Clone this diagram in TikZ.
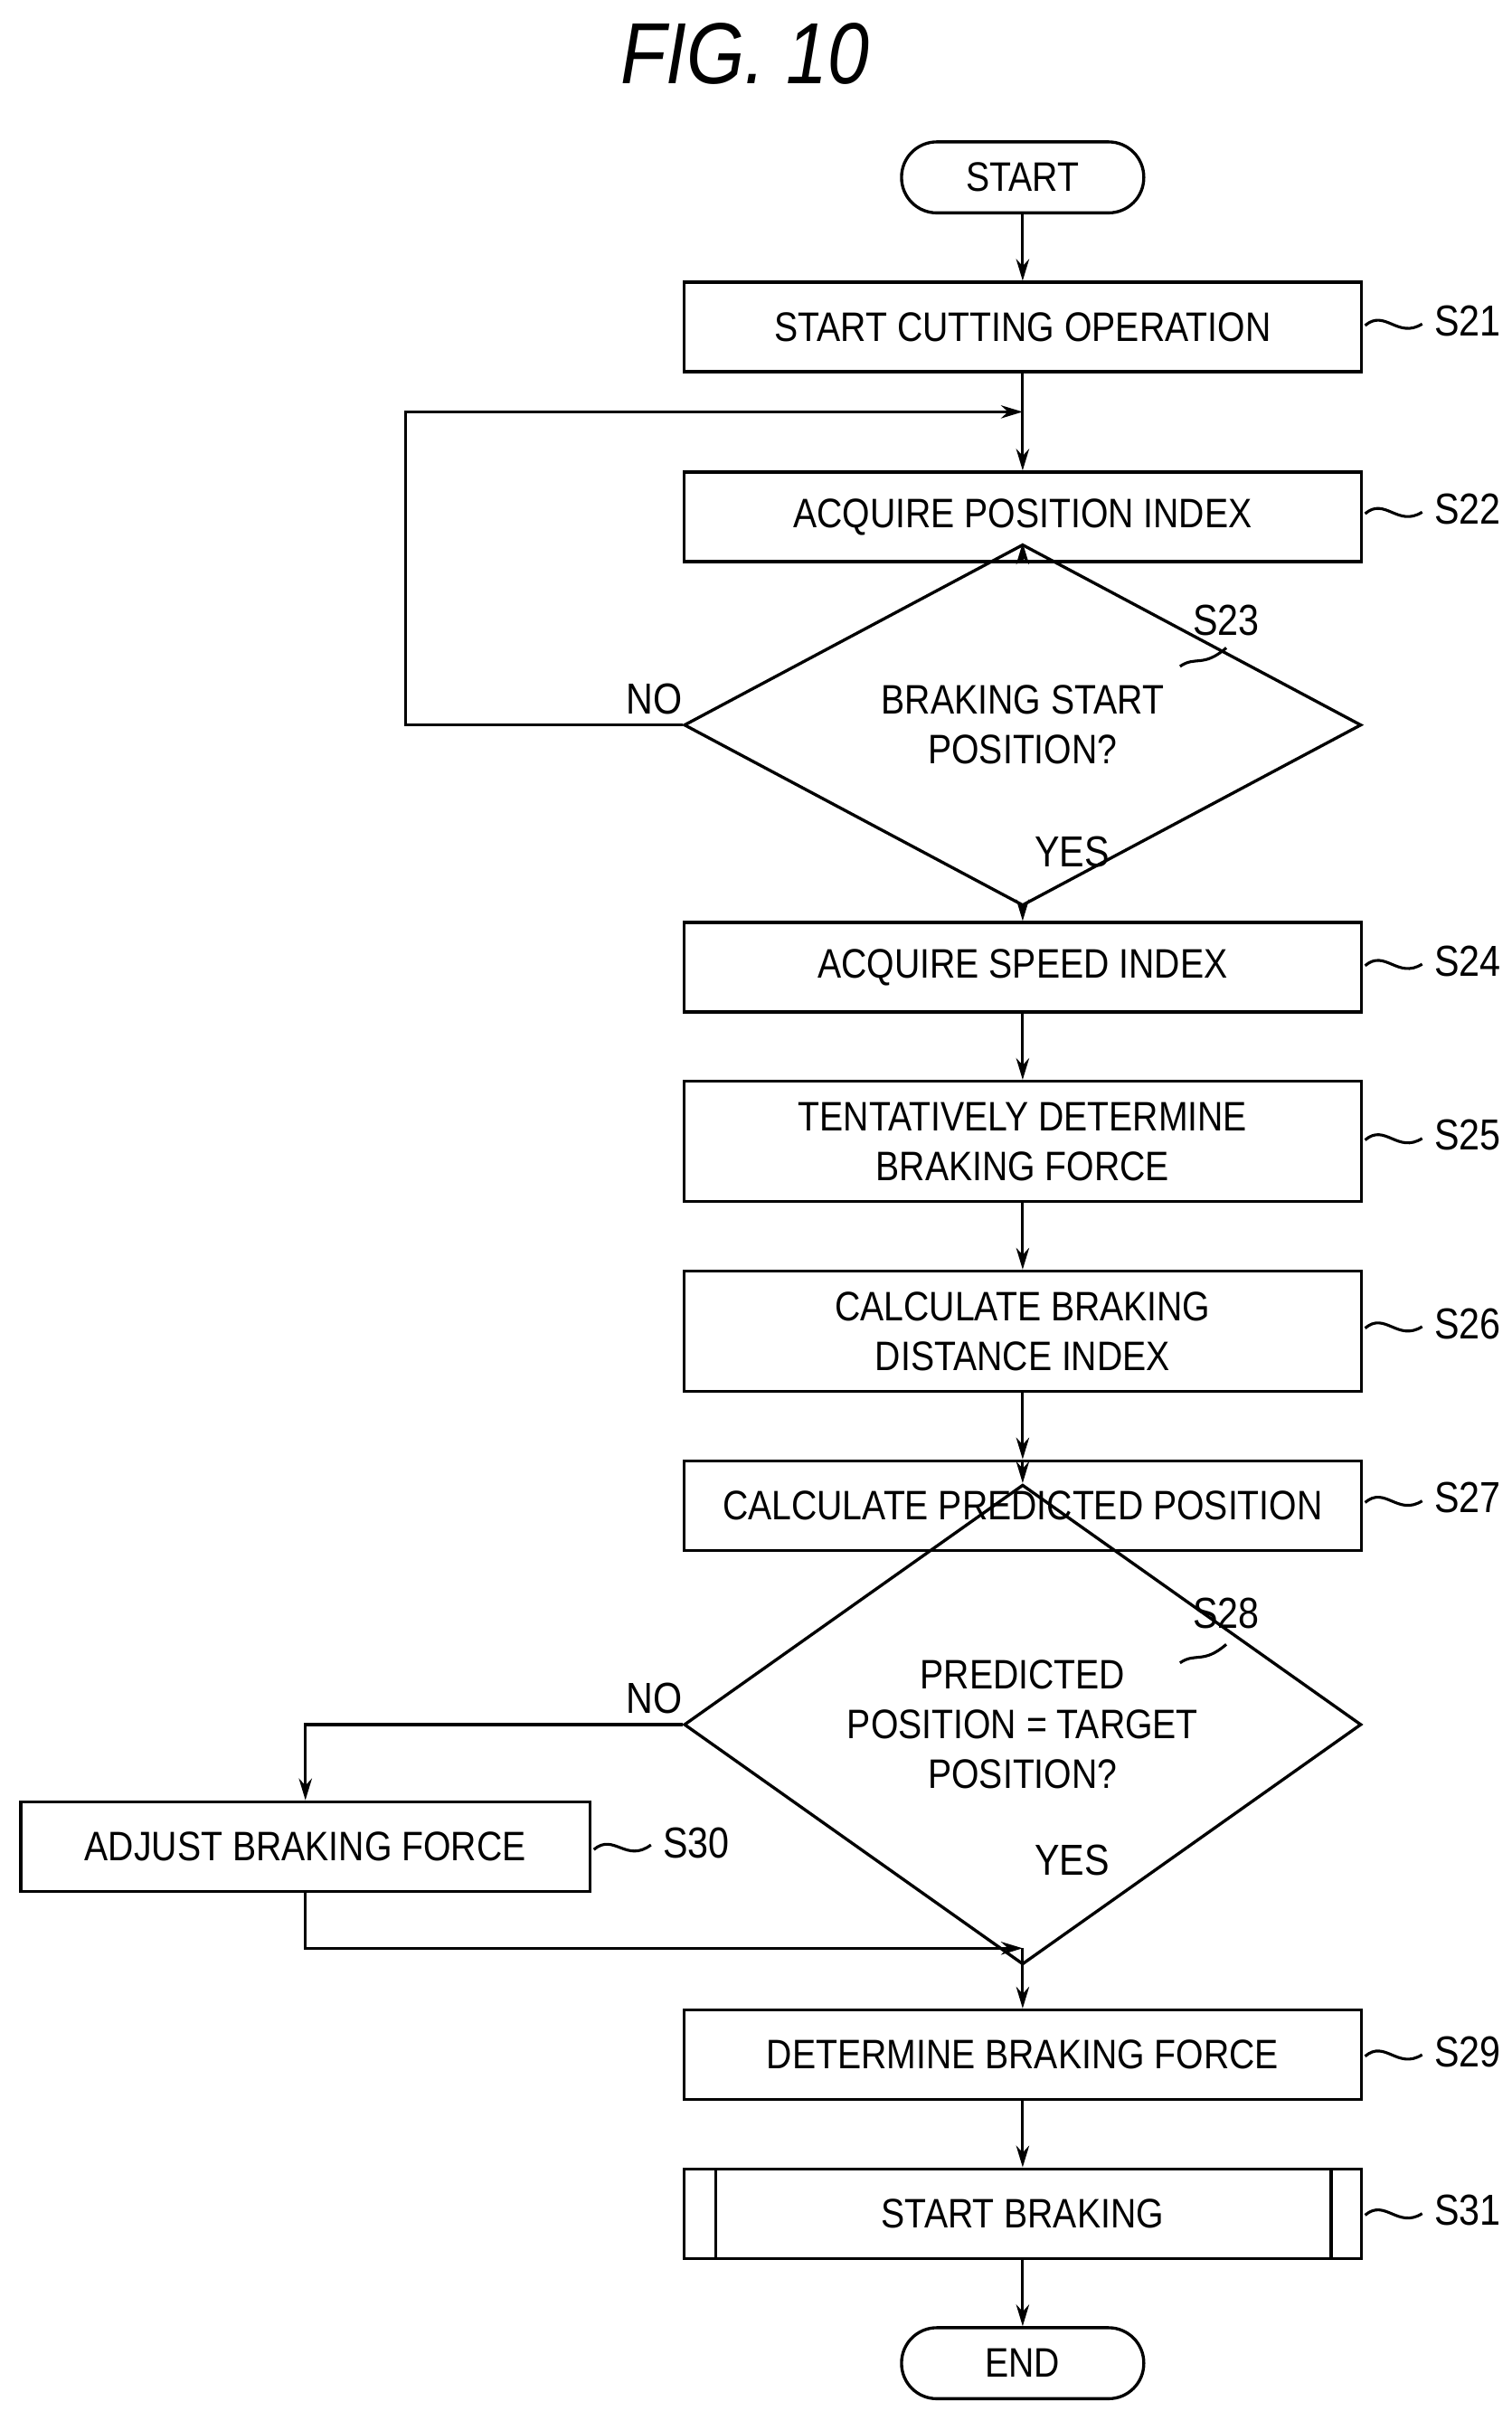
\documentclass[tikz,border=0pt]{standalone}
\usepackage{fontspec}
\setmainfont{Liberation Sans}[FakeStretch=0.86]
\usetikzlibrary{shapes.geometric,arrows.meta}
\begin{document}
\begin{tikzpicture}[x=0.025cm,y=-0.025cm,
  every node/.style={font=\fontsize{19}{23}\selectfont},
  box/.style={draw,line width=1.4pt,minimum width=10.975cm,minimum height=1.45cm,align=center,inner sep=0pt},
  dia/.style={draw,line width=1.4pt,diamond,minimum width=10.975cm,minimum height=3.2cm,align=center,inner sep=0pt},
  term/.style={draw,line width=1.4pt,rounded corners=0.57cm,minimum width=3.925cm,minimum height=1.15cm},
  ln/.style={line width=1.3pt},
  arr/.style={ln,-{Stealth[length=10pt,width=6pt]}},
  lab/.style={font=\fontsize{20}{24}\selectfont}]
\useasboundingbox (0,0) rectangle (980,1563);
\node[font=\fontsize{40}{46}\selectfont\itshape] (title) at (483,35) {FIG. 10};
\node[term] (start) at (663,115) {START};
\node[box] (s21) at (663,212) {START CUTTING OPERATION};
\node[box] (s22) at (663,335) {ACQUIRE POSITION INDEX};
\node[dia] (s23) at (663,470) {BRAKING START\\POSITION?};
\node[box] (s24) at (663,627) {ACQUIRE SPEED INDEX};
\node[box,minimum height=1.95cm] (s25) at (663,740) {TENTATIVELY DETERMINE\\BRAKING FORCE};
\node[box,minimum height=1.95cm] (s26) at (663,863) {CALCULATE BRAKING\\DISTANCE INDEX};
\node[box] (s27) at (663,976) {CALCULATE PREDICTED POSITION};
\node[dia,minimum height=3.45cm] (s28) at (663,1118) {PREDICTED\\POSITION = TARGET\\POSITION?};
\node[box,minimum width=9.225cm] (s30) at (198,1197) {ADJUST BRAKING FORCE};
\node[box] (s29) at (663,1332) {DETERMINE BRAKING FORCE};
\node[box] (s31) at (663,1435) {START BRAKING};
\draw[line width=1.4pt] (464,1406) -- (464,1464) (863,1406) -- (863,1464);
\node[term] (end) at (663,1532) {END};
% step labels
\foreach \n/\y in {s21/208,s22/330,s24/623,s25/736,s26/858,s27/971,s29/1330,s31/1433}{
  \draw[ln] (885,\y+3) .. controls (898,\y-8) and (906,\y+12) .. (922,\y+2);
}
\foreach \t/\y in {S21/208,S22/330,S24/623,S25/736,S26/858,S27/971,S29/1330,S31/1433}{
  \node[lab,anchor=west] at (925,\y) {\t};
}
\draw[ln] (385,1199) .. controls (398,1188) and (406,1208) .. (422,1196);
\node[lab,anchor=west] (l30) at (425,1195) {S30};
\draw[ln] (765,432) .. controls (775,425) and (780,433) .. (795,420);
\node[lab] (l23) at (795,402) {S23};
\draw[ln] (765,1078) .. controls (775,1071) and (780,1079) .. (795,1066);
\node[lab] (l28) at (795,1046) {S28};
% connectors
\draw[arr] (start) -- (s21);
\draw[ln] (s21) -- (663,267);
\draw[arr] (663,267) -- (s22);
\draw[arr] (s22) -- (s23);
\draw[arr] (s23.west) -- (263,470) -- (263,267) -- (663,267);
\node[lab] at (424,453) {NO};
\draw[arr] (s23) -- (s24);
\node[lab] at (695,552) {YES};
\draw[arr] (s24) -- (s25);
\draw[arr] (s25) -- (s26);
\draw[arr] (s26) -- (s27);
\draw[arr] (s27) -- (s28);
\draw[arr] (s28.west) -- (198,1118) -- (s30.north);
\node[lab] at (424,1101) {NO};
\draw[ln] (s28.south) -- (663,1263);
\draw[arr] (s30.south) -- (198,1263) -- (663,1263);
\draw[arr] (663,1263) -- (s29);
\node[lab] at (695,1206) {YES};
\draw[arr] (s29) -- (s31);
\draw[arr] (s31) -- (end);
\end{tikzpicture}
\end{document}
